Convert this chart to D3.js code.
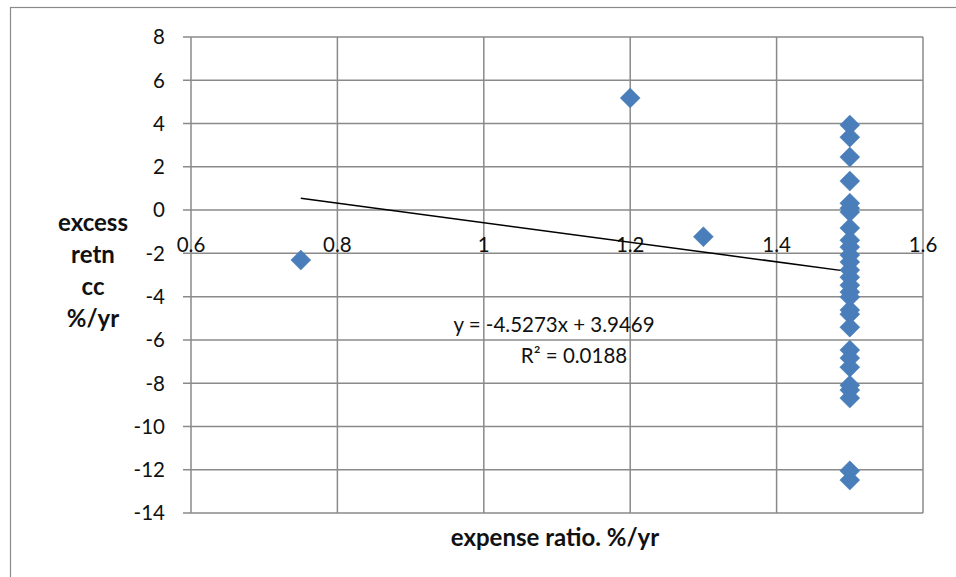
<!DOCTYPE html>
<html><head><meta charset="utf-8">
<script src="https://cdn.jsdelivr.net/npm/d3@7"></script>
<style>body{margin:0;background:#fff}svg{display:block}</style>
</head><body>
<svg id="c" width="956" height="577"></svg>
<script>
const xTicks = [0.6, 0.8, 1, 1.2, 1.4, 1.6];
const yTicks = [-14, -12, -10, -8, -6, -4, -2, 0, 2, 4, 6, 8];
const expenseRatio = [0.75, 1.2, 1.3,
  1.5, 1.5, 1.5, 1.5, 1.5, 1.5, 1.5, 1.5, 1.5, 1.5, 1.5, 1.5, 1.5, 1.5,
  1.5, 1.5, 1.5, 1.5, 1.5, 1.5, 1.5, 1.5, 1.5, 1.5, 1.5, 1.5, 1.5, 1.5];
const excessReturn = [-2.31, 5.18, -1.23,
  3.93, 3.37, 2.45, 1.34, 0.32, 0.09, -0.09, -0.83, -1.39, -1.71, -2.08, -2.40,
  -2.77, -3.10, -3.47, -3.79, -4.02, -4.62, -4.81, -5.41, -6.47, -6.84, -7.26,
  -8.09, -8.32, -8.69, -12.05, -12.48];
const trendSlope = -4.5273, trendIntercept = 3.9469;
const equationText = "y = -4.5273x + 3.9469";
const r2Text = "R² = 0.0188";
const yTitleLines = ["excess", "retn", "cc", "%/yr"];
const xTitle = "expense ratio. %/yr";

const svg = d3.select("#c");
const font = "Lato, 'Open Sans', sans-serif";
const L = 191, R = 923, T = 37, B = 513;
const x = d3.scaleLinear().domain([0.6, 1.6]).range([L, R]);
const y = d3.scaleLinear().domain([-14, 8]).range([B, T]);
const grid = "#8a8a8a";

// outer chart border
svg.append("rect").attr("x", 10.5).attr("y", 7.5).attr("width", 960).attr("height", 600)
  .attr("fill", "none").attr("stroke", "#8a8a8a").attr("stroke-width", 1.2);

// gridlines
svg.append("g").selectAll("line").data(yTicks).join("line")
  .attr("x1", L - 8).attr("x2", R).attr("y1", d => y(d)).attr("y2", d => y(d))
  .attr("stroke", grid).attr("stroke-width", 1.5);
svg.append("g").selectAll("line").data(xTicks).join("line")
  .attr("x1", d => x(d)).attr("x2", d => x(d)).attr("y1", T).attr("y2", B)
  .attr("stroke", grid).attr("stroke-width", 1.5);

// y tick labels
svg.append("g").selectAll("text").data(yTicks).join("text")
  .attr("x", 165).attr("y", d => y(d)).attr("dy", "0.36em")
  .attr("text-anchor", "end").attr("font-family", font).attr("font-size", 20.5)
  .attr("fill", "#111").text(d => d);

// x tick labels (axis crosses at 0)
svg.append("g").selectAll("text").data(xTicks).join("text")
  .attr("x", d => x(d)).attr("y", y(0) + 42)
  .attr("text-anchor", "middle").attr("font-family", font).attr("font-size", 20.5)
  .attr("fill", "#111").text(d => d);

// trendline
const xs = d3.extent(expenseRatio);
svg.append("line")
  .attr("x1", x(xs[0])).attr("y1", y(trendSlope * xs[0] + trendIntercept))
  .attr("x2", x(xs[1])).attr("y2", y(trendSlope * xs[1] + trendIntercept))
  .attr("stroke", "#000").attr("stroke-width", 1.5);

// points
const pts = expenseRatio.map((v, i) => [v, excessReturn[i]]);
svg.append("g").selectAll("path").data(pts).join("path")
  .attr("transform", d => `translate(${x(d[0])},${y(d[1])})`)
  .attr("d", "M0,-10L10,0L0,10L-10,0Z")
  .attr("fill", "#4a7ebb").attr("stroke", "#4a7ebb").attr("stroke-width", 0.5);

// equation
svg.append("text").attr("x", 554).attr("y", 332).attr("text-anchor", "middle")
  .attr("font-family", font).attr("font-size", 20.5).attr("fill", "#111").text(equationText);
svg.append("text").attr("x", 574).attr("y", 363).attr("text-anchor", "middle")
  .attr("font-family", font).attr("font-size", 20.5).attr("fill", "#111").text(r2Text);

// axis titles
svg.append("g").selectAll("text").data(yTitleLines).join("text")
  .attr("x", 93).attr("y", (d, i) => 231 + i * 32).attr("text-anchor", "middle")
  .attr("font-family", font).attr("font-weight", "bold").attr("font-size", 24)
  .attr("fill", "#111").text(d => d);
svg.append("text").attr("x", 555).attr("y", 546).attr("text-anchor", "middle")
  .attr("font-family", font).attr("font-weight", "bold").attr("font-size", 24)
  .attr("fill", "#111").text(xTitle);
</script>
</body></html>
